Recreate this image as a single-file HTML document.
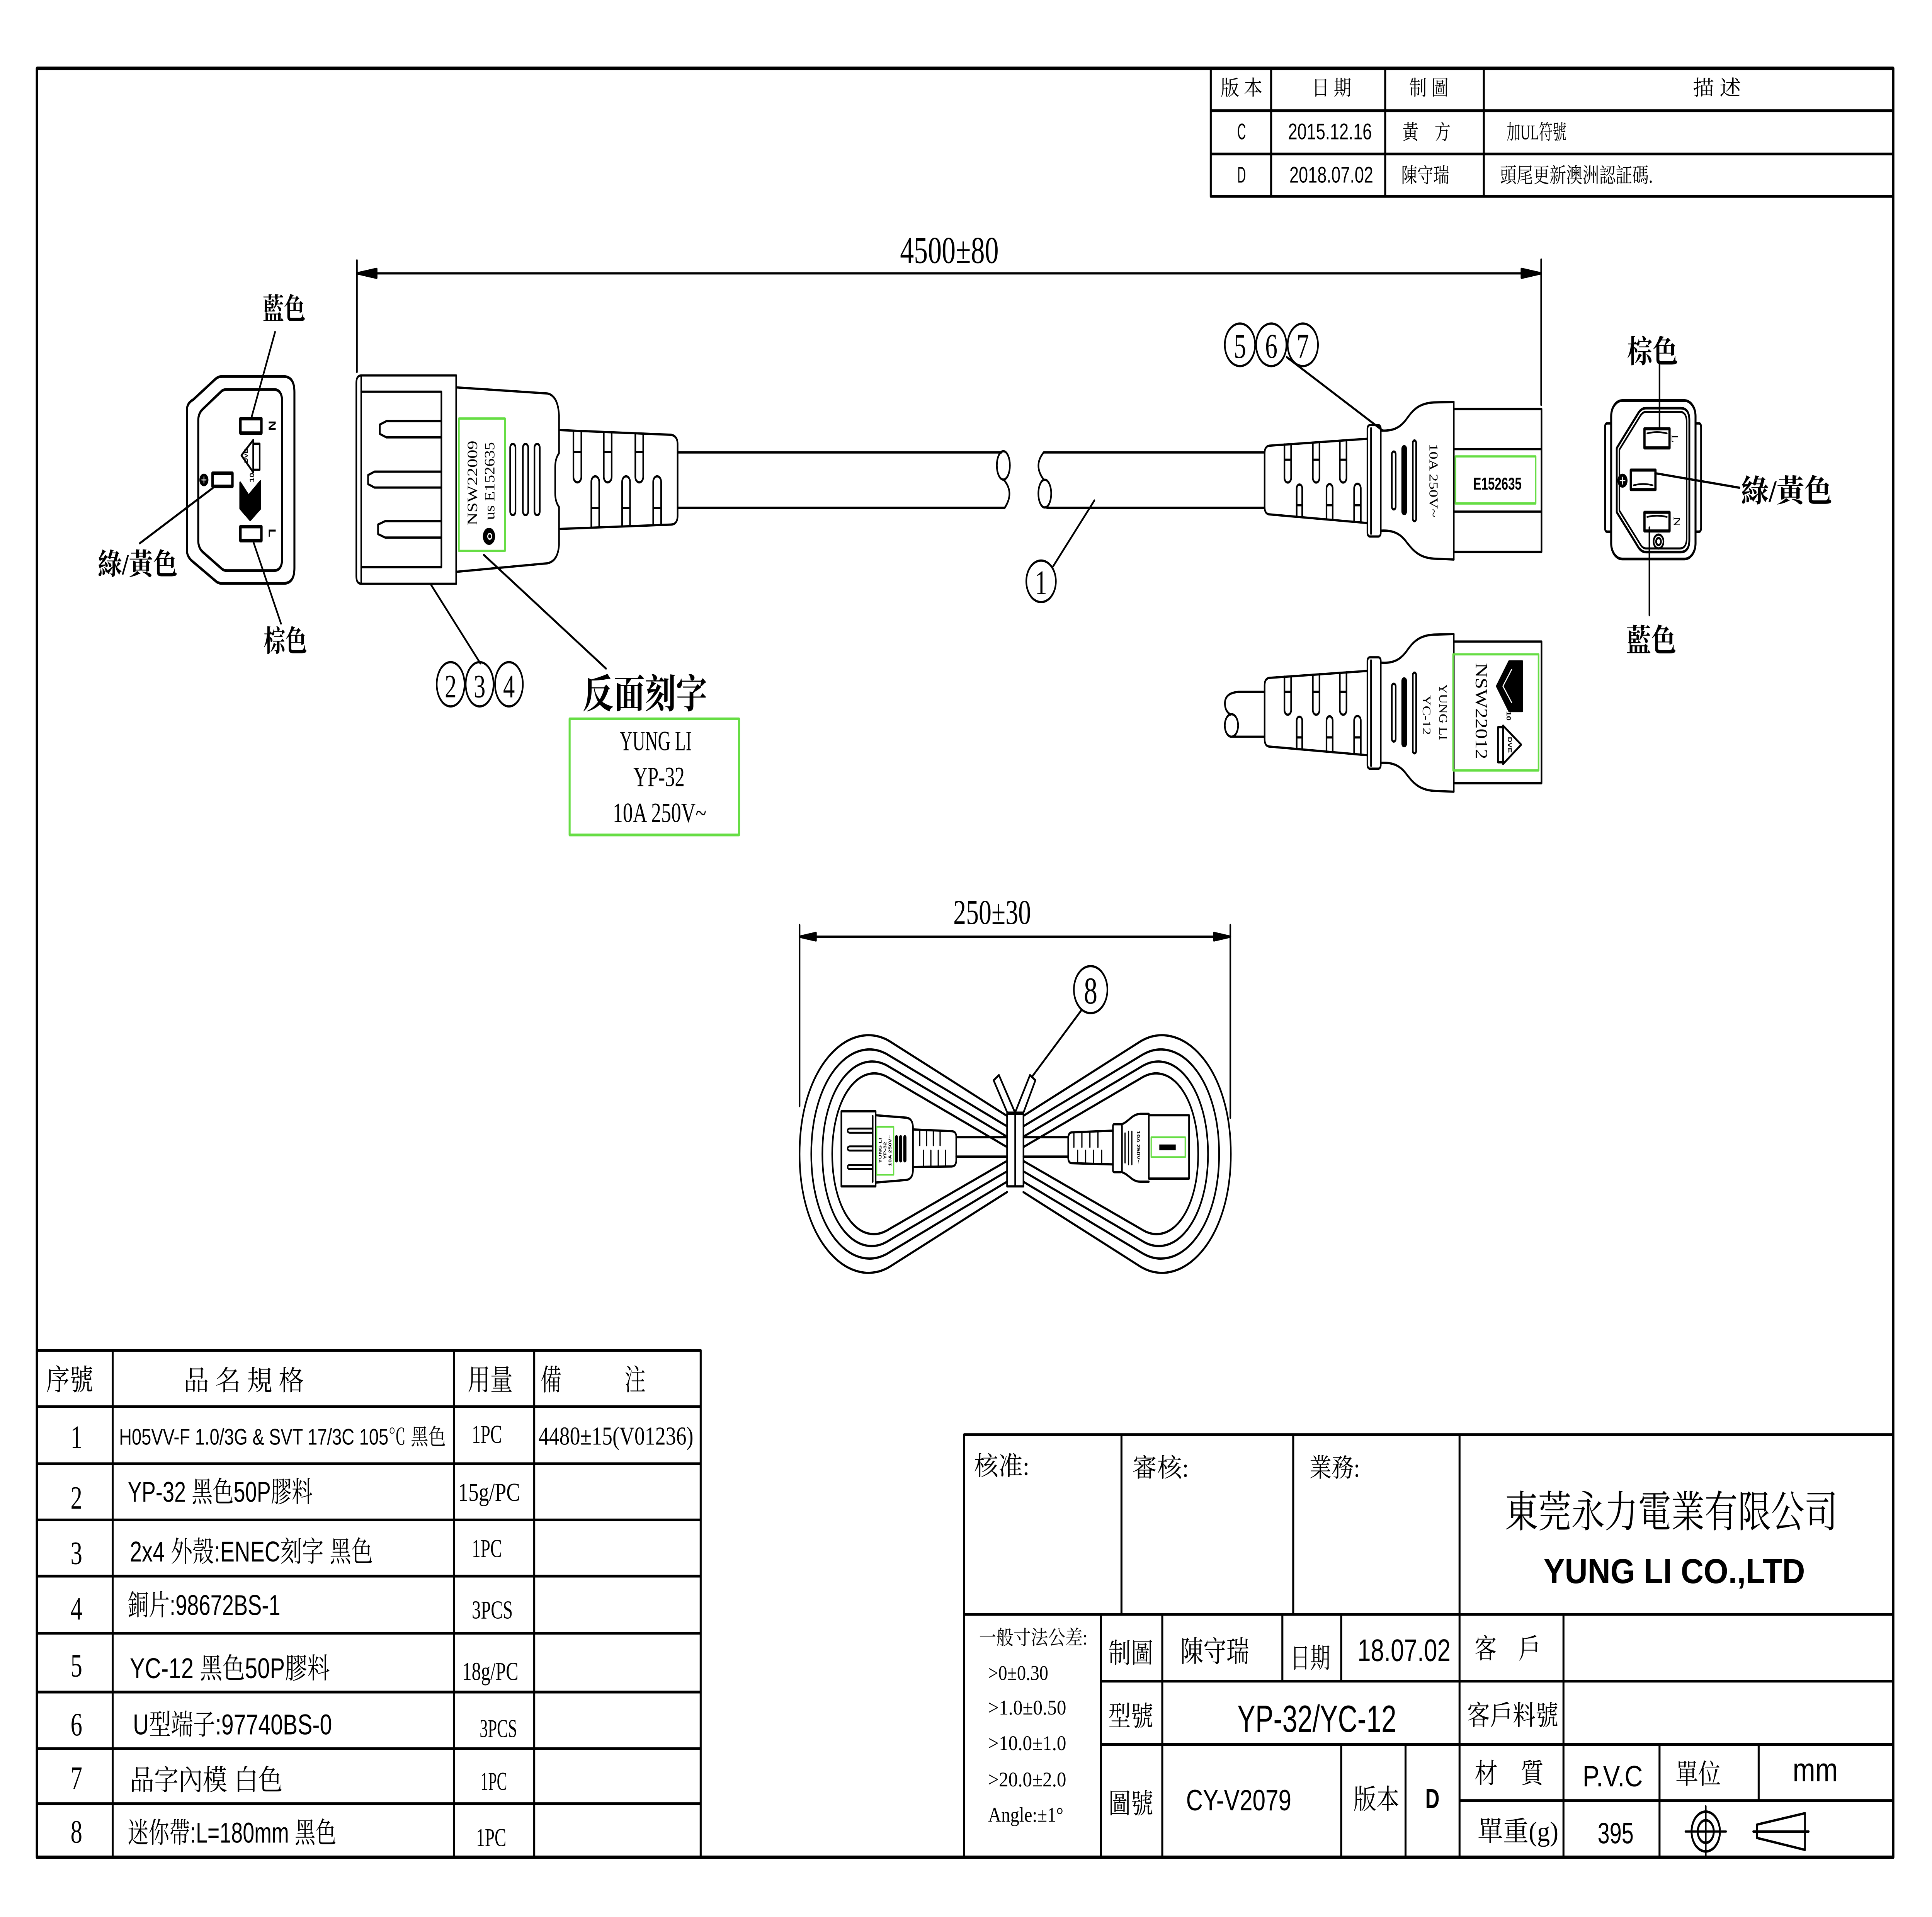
<!DOCTYPE html>
<html><head><meta charset="utf-8">
<style>
html,body{margin:0;padding:0;background:#fff;width:100%;height:100%;overflow:hidden;}
svg{display:block;position:absolute;left:0;top:0;width:100vw;height:100vh}
text{fill:#000;stroke:none;font-family:"Liberation Serif","Noto Serif CJK SC",serif}
.t{font-family:"Liberation Sans","Noto Serif CJK SC",sans-serif}
.b{font-family:"Liberation Sans",sans-serif;font-weight:bold}
.h{font-weight:bold}
</style></head><body>
<svg viewBox="0 0 1567 1108" preserveAspectRatio="none" xmlns="http://www.w3.org/2000/svg">
<rect width="1567" height="1108" fill="#fff"/>
<g fill="none" stroke="#000" stroke-width="1.3" stroke-linecap="round" stroke-linejoin="round">

<!-- Frame -->
<rect x="30" y="39.5" width="1505.5" height="1034" stroke-width="2"/>

<!-- Revision table -->
<path d="M982,39.5V113.5M1031,39.5V113.5M1123.5,39.5V113.5M1203.5,39.5V113.5M982,64H1535.5M982,89H1535.5M982,113.5H1535.5" stroke-width="1.6"/>
<text x="1007" y="55" font-size="12" text-anchor="middle" textLength="34" lengthAdjust="spacingAndGlyphs">版 本</text>
<text x="1080" y="55" font-size="12" text-anchor="middle" textLength="32" lengthAdjust="spacingAndGlyphs">日 期</text>
<text x="1159" y="55" font-size="12" text-anchor="middle" textLength="32" lengthAdjust="spacingAndGlyphs">制 圖</text>
<text x="1392.5" y="55" font-size="12" text-anchor="middle" textLength="39" lengthAdjust="spacingAndGlyphs">描 述</text>
<text class="t" x="1007" y="80.5" font-size="13" text-anchor="middle" textLength="7" lengthAdjust="spacingAndGlyphs">C</text>
<text class="t" x="1078.7" y="80.5" font-size="13" text-anchor="middle" textLength="68" lengthAdjust="spacingAndGlyphs">2015.12.16</text>
<text x="1157" y="80.5" font-size="12" text-anchor="middle" textLength="39" lengthAdjust="spacingAndGlyphs">黃　方</text>
<text x="1222" y="80.5" font-size="12" textLength="48.5" lengthAdjust="spacingAndGlyphs">加UL符號</text>
<text class="t" x="1007" y="105.5" font-size="13" text-anchor="middle" textLength="7" lengthAdjust="spacingAndGlyphs">D</text>
<text class="t" x="1079.8" y="105.5" font-size="13" text-anchor="middle" textLength="68" lengthAdjust="spacingAndGlyphs">2018.07.02</text>
<text x="1156" y="105.5" font-size="12" text-anchor="middle" textLength="39" lengthAdjust="spacingAndGlyphs">陳守瑞</text>
<text x="1216.6" y="105.5" font-size="12" textLength="124" lengthAdjust="spacingAndGlyphs">頭尾更新澳洲認証碼.</text>

<!-- Top dimension -->
<path d="M289.5,150.5V215M1250,150V234M289.5,158H1250"/>
<path d="M289.5,158L305.5,155.4L305.5,160.6Z M1250,158L1234,155.4L1234,160.6Z" fill="#000"/>
<text x="770" y="152" font-size="22" text-anchor="middle" textLength="80" lengthAdjust="spacingAndGlyphs">4500±80</text>

<!-- ===== Left plug side view ===== -->
<path d="M293,217H370V337.4H293Q289,337.4 289,333V221.4Q289,217 293,217ZM293,217V337.4"/>
<path d="M293,226.4H358V327.8H293"/>
<path d="M358,243.4H313.4L308.1,245.4V250.8L313.4,252.8H358"/>
<path d="M358,272.6H303.8L298.5,274.6V279.8L303.8,281.8H358"/>
<path d="M358,301.2H312.4L306.6,303.2V308.7L312.4,310.7H358"/>
<path d="M370,223.9L443.7,227.4Q452.5,228.5 453.4,240V262Q450.3,265 450.3,270V285Q450.3,290 453.4,293V315Q452.5,324.5 443.7,325.6L370,330.5"/>
<path d="M454.5,248.6L544.3,251.3Q549.6,252 549.6,256.8V298Q549.6,303 544.3,303.2L454.5,305.7"/>
<path d="M465.1,249V275.6A3.2,3.2 0 0 0 471.5,275.6V249.2M465.1,261.3H471.5"/>
<path d="M489.7,249.7V275.6A3.2,3.2 0 0 0 496.1,275.6V249.9M489.7,261.3H496.1"/>
<path d="M515.3,250.4V275.6A3.2,3.2 0 0 0 521.7,275.6V250.6M515.3,261.3H521.7"/>
<path d="M479.6,305V278.5A3.2,3.2 0 0 1 486,278.5V304.8M479.6,293.7H486"/>
<path d="M504.6,304.2V278.5A3.2,3.2 0 0 1 511,278.5V304M504.6,293.7H511"/>
<path d="M529.8,303.4V278.5A3.2,3.2 0 0 1 536.2,278.5V303.2M529.8,293.7H536.2"/>
<rect x="413.8" y="256.6" width="4.3" height="41.1" rx="2.1"/>
<rect x="424.1" y="256.6" width="4.3" height="41.1" rx="2.1"/>
<rect x="433.5" y="256.6" width="4.3" height="41.1" rx="2.1"/>
<rect x="372.2" y="241.9" width="37.4" height="76.5" stroke="#66dd44"/>
<text transform="translate(387,279.2) rotate(-90)" font-size="11.5" text-anchor="middle" textLength="49" lengthAdjust="spacingAndGlyphs">NSW22009</text>
<text transform="translate(401,278) rotate(-90)" font-size="11.5" text-anchor="middle" textLength="45" lengthAdjust="spacingAndGlyphs">us E152635</text>
<circle cx="396.6" cy="310" r="4.3" fill="#000"/>
<circle cx="397.2" cy="310" r="1.6" stroke="#fff" stroke-width="0.8"/>

<!-- leaders and labels for plug -->
<path d="M349.7,338.1L389.6,383.4M392.4,320.7L491.5,386.4"/>
<ellipse cx="365.5" cy="395.5" rx="11.3" ry="12.8"/>
<ellipse cx="389" cy="395.5" rx="11.3" ry="12.8"/>
<ellipse cx="412.8" cy="395.5" rx="11.3" ry="12.8"/>
<text x="365.5" y="403" font-size="19" text-anchor="middle">2</text>
<text x="389" y="403" font-size="19" text-anchor="middle">3</text>
<text x="412.8" y="403" font-size="19" text-anchor="middle">4</text>
<text class="h" x="523" y="409" font-size="23" text-anchor="middle" textLength="101" lengthAdjust="spacingAndGlyphs">反面刻字</text>
<rect x="462" y="415.5" width="137.4" height="67.1" stroke="#66dd44" stroke-width="1.6"/>
<text x="531.8" y="433.6" font-size="16" text-anchor="middle" textLength="58.3" lengthAdjust="spacingAndGlyphs">YUNG LI</text>
<text x="534.5" y="454.4" font-size="16" text-anchor="middle" textLength="41.6" lengthAdjust="spacingAndGlyphs">YP-32</text>
<text x="535" y="475.2" font-size="16" text-anchor="middle" textLength="75.9" lengthAdjust="spacingAndGlyphs">10A 250V~</text>

<!-- main cable with break -->
<path d="M549.6,261.5H812.4M549.6,293.5H814.9"/>
<ellipse cx="813.8" cy="269" rx="5.3" ry="8.2"/>
<path d="M814,277.2Q823,284.6 814.9,293.5"/>
<path d="M1025.7,261.5H846.5Q838,269 846.5,277.2"/>
<ellipse cx="847.4" cy="285.3" rx="5.2" ry="8"/>
<path d="M849.1,293.5H1025.7"/>
<path d="M887.6,289.3L854.2,327.3"/>
<circle cx="844.4" cy="336" r="12"/>
<text x="844.4" y="343.5" font-size="20" text-anchor="middle">1</text>

<!-- ===== Right connector upper ===== -->
<g id="cbody">
<path d="M1179.1,232.3L1163,232.6C1151,233 1146,237 1141,242C1136,247 1130,249.4 1120,248.8"/>
<path d="M1179.1,323.4L1163,322.9C1151,322.4 1146,318 1141,313.5C1136,308.5 1130,306.3 1120,306.7"/>
<path d="M1179.1,232.3V323.4"/>
<rect x="1109.1" y="245.7" width="10.8" height="64.4" rx="2"/>
<path d="M1112,247.5V308.5"/>
<path d="M1108.8,253.6L1029.5,257.6Q1025.7,258 1025.7,262V293Q1025.7,297 1029.5,297.3L1108.8,302.3"/>
<path d="M1041.8,256.9V276.2A2.7,2.7 0 0 0 1047.2,276.2V256.6M1041.8,265.7H1047.2"/>
<path d="M1064.8,255.8V276.2A2.7,2.7 0 0 0 1070.2,276.2V255.5M1064.8,265.7H1070.2"/>
<path d="M1086.7,254.7V276.2A2.7,2.7 0 0 0 1092.1,276.2V254.4M1086.7,265.7H1092.1"/>
<path d="M1051.7,298.7V282.3A2.25,2.25 0 0 1 1056.2,282.3V299M1051.7,292H1056.2"/>
<path d="M1075.9,300.2V282.3A2.5,2.5 0 0 1 1080.9,282.3V300.5M1075.9,292H1080.9"/>
<path d="M1098.3,301.6V282.3A2.7,2.7 0 0 1 1103.7,282.3V302M1098.3,292H1103.7"/>
<rect x="1128.9" y="261" width="3.1" height="33.4" rx="1.5"/>
<rect x="1137.3" y="257.9" width="3.2" height="39.2" rx="1.5" fill="#000"/>
<rect x="1145.9" y="254.6" width="2.7" height="46.6" rx="1.3"/>
</g>
<rect x="1179.1" y="236.4" width="71.2" height="82.6"/>
<path d="M1179.1,259.6H1250.3M1179.1,295.7H1250.3"/>
<rect x="1180.5" y="263.8" width="65" height="27.2" stroke="#66dd44"/>
<text class="b" x="1214.5" y="283" font-size="10" text-anchor="middle" textLength="39.3" lengthAdjust="spacingAndGlyphs">E152635</text>
<text transform="translate(1159.5,277.7) rotate(90)" font-size="10" text-anchor="middle" textLength="42.6" lengthAdjust="spacingAndGlyphs">10A 250V~</text>
<path d="M1043.6,206.4L1121.7,249"/>
<circle cx="1005.7" cy="199.3" r="12.3"/>
<circle cx="1031.1" cy="199.3" r="12.3"/>
<circle cx="1056.7" cy="199.3" r="12.3"/>
<text x="1005.7" y="206.8" font-size="20" text-anchor="middle">5</text>
<text x="1031.1" y="206.8" font-size="20" text-anchor="middle">6</text>
<text x="1056.7" y="206.8" font-size="20" text-anchor="middle">7</text>

<!-- ===== Right connector lower ===== -->
<use href="#cbody" transform="translate(0,134.2)"/>
<rect x="1179.1" y="370.8" width="71.2" height="81.9"/>
<rect x="1178.6" y="378.2" width="69.3" height="67.1" stroke="#66dd44"/>
<text transform="translate(1167.4,411.5) rotate(90)" font-size="9.5" text-anchor="middle" textLength="32.4" lengthAdjust="spacingAndGlyphs">YUNG LI</text>
<text transform="translate(1154,413.3) rotate(90)" font-size="9.5" text-anchor="middle" textLength="23" lengthAdjust="spacingAndGlyphs">YC-12</text>
<text transform="translate(1197,411) rotate(90)" font-size="14" text-anchor="middle" textLength="55.6" lengthAdjust="spacingAndGlyphs">NSW22012</text>
<path d="M1214,396.6L1224,382.3H1234.7V411H1224Z" fill="#000"/>
<path d="M1219,396.6L1226,387M1219,396.6L1226,406" stroke="#fff" stroke-width="0.8"/>
<text class="b" transform="translate(1222,411) rotate(90)" font-size="5">10</text>
<path d="M1219.1,419.4L1233.8,430.4L1219.1,441.6Z"/>
<rect x="1215" y="420.3" width="4.1" height="20.3"/>
<text class="b" transform="translate(1223,430.5) rotate(90)" font-size="4.5" text-anchor="middle">DVE</text>
<path d="M1025.7,399.9H1004.5Q993.5,400.5 993.5,406.5Q993.5,411 998,413"/>
<ellipse cx="998.8" cy="419.3" rx="5.4" ry="6.5"/>
<path d="M1000,425.8H1025.7"/>

<!-- ===== Left front view ===== -->
<path d="M151.6,237Q151.6,233 156.7,231L174.7,219.1Q177,217.6 180,217.6L230,217.6Q238.8,217.6 238.8,226.6L238.8,328.3Q238.8,337.2 230,337.2L180,337.2Q177,337.2 174.7,335.7L156.7,324.8Q151.6,322 151.6,318Z" stroke-width="1.6"/>
<path d="M160.8,243Q160.8,239 164.4,236.5L179.8,226Q181.5,225.1 184,225.1L222,225.1Q228.8,225.1 228.8,232L228.8,323Q228.8,329.8 222,329.8L184,329.8Q181.5,329.8 179.8,328.7L164.4,319Q160.8,316.5 160.8,312.5Z" stroke-width="1.6"/>
<rect x="195" y="242" width="17" height="8.3" stroke-width="2"/>
<rect x="172.4" y="273.5" width="16.1" height="7.6" stroke-width="2"/>
<rect x="195" y="304.4" width="17" height="8.1" stroke-width="2"/>
<text class="b" transform="translate(218,246) rotate(90)" font-size="8" text-anchor="middle">N</text>
<text class="b" transform="translate(218,308) rotate(90)" font-size="8" text-anchor="middle">L</text>
<circle cx="165.4" cy="277.4" r="3" fill="#000"/>
<path d="M163.6,277.4H167.2M165.4,275.6V279.2" stroke="#fff" stroke-width="0.6"/>
<path d="M195.8,263.2L205.4,254.3V273Z"/>
<rect x="205.4" y="256.5" width="5.2" height="15"/>
<text class="b" transform="translate(201,263.5) rotate(-90)" font-size="4" text-anchor="middle">DVE</text>
<path d="M194.8,278.9L201.6,286.4L211.2,278.2V293.9L202.9,300.6L194.8,293.9Z" fill="#000"/>
<text class="b" transform="translate(206,276) rotate(-90)" font-size="5" text-anchor="middle">10</text>
<path d="M223.1,191.9L203.9,241.5M172.7,282L113.4,314M205.4,313L227.9,360.4"/>
<text class="h" x="213" y="184.5" font-size="17" textLength="34.7" lengthAdjust="spacingAndGlyphs">藍色</text>
<text class="h" x="79.2" y="332" font-size="17" textLength="64.7" lengthAdjust="spacingAndGlyphs">綠/黃色</text>
<text class="h" x="213.8" y="376.5" font-size="17" textLength="35.2" lengthAdjust="spacingAndGlyphs">棕色</text>

<!-- ===== Right front view ===== -->
<rect x="1306.8" y="231.5" width="68.4" height="91.6" rx="9" stroke-width="1.6"/>
<path d="M1306.8,244.7H1303.5Q1301.8,244.7 1301.8,247V305Q1301.8,307.3 1303.5,307.3H1306.8M1375.2,244.7H1378Q1379.7,244.7 1379.7,247V305Q1379.7,307.3 1378,307.3H1375.2" stroke-width="1.4"/>
<path d="M1311.3,259L1329,238.5Q1331.5,235.9 1335,235.9L1363,235.9Q1370.2,235.9 1370.2,243L1370.2,312Q1370.2,319.1 1363,319.1L1335,319.1Q1331.5,319.1 1329,316.5L1311.3,296Z" stroke-width="1.5"/>
<path d="M1313.5,259.8L1330.3,240.5Q1332.3,238 1335.3,238L1362.3,238Q1368,238 1368,244L1368,311Q1368,317 1362.3,317L1335.3,317Q1332.3,317 1330.3,314.5L1313.5,295.2Z" stroke-width="1.2"/>
<rect x="1333.8" y="247.8" width="20.3" height="11.1" stroke-width="1.8"/>
<rect x="1322.7" y="271.7" width="20" height="11.3" stroke-width="1.8"/>
<rect x="1333.8" y="296.1" width="20.3" height="10.8" stroke-width="1.8"/>
<path d="M1336,250.5Q1344,249 1352,250.5M1325,280.5Q1332.7,279 1340.5,280.5M1336,298.8Q1344,297.3 1352,298.8" stroke-width="1"/>
<text transform="translate(1356,253.5) rotate(90)" font-size="8" text-anchor="middle">L</text>
<text transform="translate(1357.5,301.5) rotate(90)" font-size="8" text-anchor="middle">N</text>
<circle cx="1316" cy="277.8" r="3.4" fill="#000"/>
<path d="M1314,277.8H1318M1316,275.8V279.8" stroke="#fff" stroke-width="0.6"/>
<circle cx="1345.2" cy="313" r="4"/>
<circle cx="1345.2" cy="313" r="2"/>
<path d="M1346,210.2V247.8M1342.4,273.5L1410.8,281.9M1337.8,304.9V355.6"/>
<text class="h" x="1319.6" y="209.5" font-size="18" textLength="41.3" lengthAdjust="spacingAndGlyphs">棕色</text>
<text class="h" x="1412" y="290" font-size="18" textLength="74" lengthAdjust="spacingAndGlyphs">綠/黃色</text>
<text class="h" x="1319" y="376.5" font-size="18" textLength="40.5" lengthAdjust="spacingAndGlyphs">藍色</text>

<!-- ===== Coil figure ===== -->
<path d="M648.5,534.6V639.3M997.9,534.6V646M648.5,541.4H997.9"/>
<path d="M648.5,541.4L661.8,539.2V543.6Z M997.9,541.4L984.6,539.2V543.6Z" fill="#000"/>
<text x="804.7" y="534" font-size="20" text-anchor="middle" textLength="63" lengthAdjust="spacingAndGlyphs">250±30</text>
<circle cx="884.6" cy="572" r="13.6"/>
<text x="884.6" y="580" font-size="22" text-anchor="middle">8</text>
<path d="M877,584L837.3,622.1"/>
<path d="M816.8,645L722,602C690,588 648.5,615 648.5,667C648.5,719 690,746 722,732L816.8,689"/>
<path d="M816.8,651L721,610C692,597 658,622 658,667C658,712 692,737 721,724L816.8,683"/>
<path d="M816.8,657L721,616.5C695,605 667,628 667,667C667,706 695,729 721,717L816.8,677"/>
<path d="M816.8,663L721,623C698,613 675,633 675,667C675,701 698,721 721,710.5L816.8,671"/>
<path d="M830,645L924.8,602C956.8,588 998.3,615 998.3,667C998.3,719 956.8,746 924.8,732L830,689"/>
<path d="M830,651L925.8,610C954.8,597 988.8,622 988.8,667C988.8,712 954.8,737 925.8,724L830,683"/>
<path d="M830,657L925.8,616.5C951.8,605 979.8,628 979.8,667C979.8,706 951.8,729 925.8,717L830,677"/>
<path d="M830,663L925.8,623C948.8,613 971.8,633 971.8,667C971.8,701 948.8,721 925.8,710.5L830,671"/>
<path d="M817,643.1L805.9,624.4L810.2,621.4L823.3,643.1Z" fill="#fff"/>
<path d="M823.3,643.1L835.4,621.4L839.8,624.4L830.1,643.1Z" fill="#fff"/>
<rect x="816.8" y="643.8" width="13.3" height="41.9" fill="#fff"/>
<path d="M823.4,643.8V685.7"/>
<path d="M775.6,657.3H816.8M775.6,668.5H816.8M830.1,657.3H866.4M830.1,668.5H866.4"/>
<rect x="682.4" y="642.3" width="27.8" height="43.4"/>
<path d="M707.8,645V683"/>
<path d="M707.8,652.3H689.5Q687.5,652.3 687.5,653.5Q687.5,654.7 689.5,654.7H707.8M707.8,662.6H689.5Q687.5,662.6 687.5,663.8Q687.5,665 689.5,665H707.8M707.8,673.3H689.5Q687.5,673.3 687.5,674.5Q687.5,675.7 689.5,675.7H707.8" stroke-width="1.1"/>
<path d="M710.2,644.6L735,646Q740.5,646.5 740.5,652V676Q740.5,681.5 735,682L710.2,683.5"/>
<rect x="711" y="651.3" width="13.8" height="27.7" stroke="#66dd44" stroke-width="1"/>
<text transform="translate(715,665) rotate(-90)" font-size="3.6" text-anchor="middle" class="b">YUNG LI</text>
<text transform="translate(719,665) rotate(-90)" font-size="3.6" text-anchor="middle" class="b">YP-32</text>
<text transform="translate(723,665) rotate(-90)" font-size="3.6" text-anchor="middle" class="b">10A 250V~</text>
<rect x="726.2" y="656.5" width="1.8" height="15" rx="0.9" fill="#000" stroke-width="0.8"/>
<rect x="729.6" y="656.5" width="1.8" height="15" rx="0.9" fill="#000" stroke-width="0.8"/>
<rect x="733" y="656.5" width="1.8" height="15" rx="0.9" fill="#000" stroke-width="0.8"/>
<path d="M740.5,652.8L772,653.8Q775.6,654 775.6,657V670.5Q775.6,674 772,674.2L740.5,674.5"/>
<path d="M746,653V662M751.5,653.2V662M757,653.4V662M762.5,653.6V662M749,665V674.4M755,665V674.4M761,665V674.3M767,665V674.2" stroke-width="1"/>
<rect x="931.8" y="644.6" width="32.6" height="36.6"/>
<rect x="933.7" y="657.3" width="27.6" height="11.5" stroke="#66dd44" stroke-width="1"/>
<rect x="940.3" y="661.5" width="13.3" height="3.3" fill="#000" stroke="none"/>
<path d="M931.8,643.8H925C918,644 916,648 910,649.8M931.8,683H925C918,683 916,679 910,677.5"/>
<rect x="902.7" y="649.8" width="7.3" height="27.7" rx="1"/>
<path d="M902.7,653.5L869,654.5Q866.4,655 866.4,658V669Q866.4,672 869,672.3L902.7,673"/>
<path d="M871,654.5V663M877.5,654.3V663M884,654.1V663M890.5,653.9V663M874,665V672.4M880.5,665V672.5M887,665V672.7M893.5,665V672.8" stroke-width="1"/>
<path d="M912.5,655V672M915.3,654V673M918,654V673" stroke-width="1"/>
<text transform="translate(922,663) rotate(90)" font-size="3.8" text-anchor="middle" class="b">10A 250V~</text>

<!-- ===== Parts table (bottom-left) ===== -->
<path d="M30,780.5H568.3M30,813H568.3M30,846H568.3M30,878.5H568.3M30,911H568.3M30,944H568.3M30,978H568.3M30,1010.7H568.3M30,1042.5H568.3M91.4,780.5V1073.5M368.1,780.5V1073.5M433.3,780.5V1073.5M568.3,780.5V1073.5" stroke-width="1.6"/>
<text x="37.3" y="803.5" font-size="17" textLength="38.3" lengthAdjust="spacingAndGlyphs">序號</text>
<text x="148.9" y="803.5" font-size="16" textLength="97.7" lengthAdjust="spacingAndGlyphs">品 名 規 格</text>
<text x="379.2" y="803.5" font-size="17" textLength="36.7" lengthAdjust="spacingAndGlyphs">用量</text>
<text x="438.5" y="803.5" font-size="17">備</text>
<text x="506.6" y="803.5" font-size="17">注</text>
<g class="t" font-size="19" text-anchor="middle">
<text x="62" y="837">1</text>
<text x="62" y="872">2</text>
<text x="62" y="904">3</text>
<text x="62" y="936">4</text>
<text x="62" y="969">5</text>
<text x="62" y="1003">6</text>
<text x="62" y="1034">7</text>
<text x="62" y="1065">8</text>
</g>
<text class="t" x="96.6" y="835" font-size="13" textLength="265" lengthAdjust="spacingAndGlyphs">H05VV-F 1.0/3G &amp; SVT 17/3C 105℃ 黑色</text>
<text class="t" x="103.6" y="868" font-size="16.5" textLength="150" lengthAdjust="spacingAndGlyphs">YP-32 黑色50P膠料</text>
<text class="t" x="105.3" y="902.5" font-size="16.5" textLength="197.2" lengthAdjust="spacingAndGlyphs">2x4 外殼:ENEC刻字 黑色</text>
<text class="t" x="103.6" y="933.5" font-size="16.5" textLength="123.8" lengthAdjust="spacingAndGlyphs">銅片:98672BS-1</text>
<text class="t" x="105.3" y="970" font-size="16.5" textLength="162.3" lengthAdjust="spacingAndGlyphs">YC-12 黑色50P膠料</text>
<text class="t" x="107.8" y="1002.5" font-size="16.5" textLength="161.5" lengthAdjust="spacingAndGlyphs">U型端子:97740BS-0</text>
<text class="t" x="105.3" y="1034.5" font-size="16.5" textLength="123.9" lengthAdjust="spacingAndGlyphs">品字內模 白色</text>
<text class="t" x="103.6" y="1065" font-size="16.5" textLength="169.2" lengthAdjust="spacingAndGlyphs">迷你帶:L=180mm 黑色</text>
<g class="t" font-size="15">
<text x="382.7" y="834" textLength="24.4" lengthAdjust="spacingAndGlyphs">1PC</text>
<text x="371.5" y="867.5" textLength="50.3" lengthAdjust="spacingAndGlyphs">15g/PC</text>
<text x="382.7" y="900" textLength="24.4" lengthAdjust="spacingAndGlyphs">1PC</text>
<text x="382.7" y="935.5" textLength="33.2" lengthAdjust="spacingAndGlyphs">3PCS</text>
<text x="375" y="971" textLength="45.4" lengthAdjust="spacingAndGlyphs">18g/PC</text>
<text x="389" y="1004" textLength="30.4" lengthAdjust="spacingAndGlyphs">3PCS</text>
<text x="389.7" y="1034.5" textLength="21.6" lengthAdjust="spacingAndGlyphs">1PC</text>
<text x="386.2" y="1067" textLength="24.4" lengthAdjust="spacingAndGlyphs">1PC</text>
<text x="436.8" y="835" textLength="125.6" lengthAdjust="spacingAndGlyphs">4480±15(V01236)</text>
</g>

<!-- ===== Title block (bottom-right) ===== -->
<path d="M782,829.2H1535.5M782,829.2V1073.5M909.6,829.2V933.1M1048.9,829.2V933.1M1183.8,829.2V1073.5M782,933.1H1535.5M893,933.1V1073.5M942.7,933.1V1073.5M1040.1,933.1V971.7M1087.8,933.1V971.7M1087.8,1008.3V1073.5M1140,1008.3V1073.5M1268.1,933.1V1073.5M1346,1008.3V1073.5M1426.4,1008.3V1040.7M893,971.7H1535.5M893,1008.3H1535.5M1183.8,1040.7H1535.5" stroke-width="1.6"/>
<text x="790" y="852.5" font-size="15" textLength="45" lengthAdjust="spacingAndGlyphs">核准:</text>
<text x="918.3" y="853.5" font-size="15" textLength="46" lengthAdjust="spacingAndGlyphs">審核:</text>
<text x="1062" y="853.5" font-size="15" textLength="41" lengthAdjust="spacingAndGlyphs">業務:</text>
<text x="1355.5" y="882.5" font-size="25" text-anchor="middle" textLength="270" lengthAdjust="spacingAndGlyphs">東莞永力電業有限公司</text>
<text class="b" x="1358" y="915" font-size="20" text-anchor="middle" textLength="212" lengthAdjust="spacingAndGlyphs">YUNG LI CO.,LTD</text>
<text x="794" y="950.5" font-size="11.5" textLength="88" lengthAdjust="spacingAndGlyphs">一般寸法公差:</text>
<g class="t" font-size="12">
<text x="801.5" y="971" textLength="48.7" lengthAdjust="spacingAndGlyphs">&gt;0±0.30</text>
<text x="801.5" y="991" textLength="63.3" lengthAdjust="spacingAndGlyphs">&gt;1.0±0.50</text>
<text x="801.5" y="1011.5" textLength="63.3" lengthAdjust="spacingAndGlyphs">&gt;10.0±1.0</text>
<text x="801.5" y="1032.5" textLength="63.3" lengthAdjust="spacingAndGlyphs">&gt;20.0±2.0</text>
<text x="801.5" y="1053" textLength="61" lengthAdjust="spacingAndGlyphs">Angle:±1°</text>
</g>
<text x="899" y="961" font-size="16" textLength="36.4" lengthAdjust="spacingAndGlyphs">制圖</text>
<text x="957.3" y="960.5" font-size="17" textLength="56" lengthAdjust="spacingAndGlyphs">陳守瑞</text>
<text x="1046.4" y="964" font-size="16" textLength="32.6" lengthAdjust="spacingAndGlyphs">日期</text>
<text class="t" x="1101" y="960" font-size="18" textLength="75.5" lengthAdjust="spacingAndGlyphs">18.07.02</text>
<text x="1196" y="958.5" font-size="16" textLength="53.5" lengthAdjust="spacingAndGlyphs">客　戶</text>
<text x="899" y="997.5" font-size="16" textLength="36.4" lengthAdjust="spacingAndGlyphs">型號</text>
<text class="t" x="1003.6" y="1001" font-size="22" textLength="129" lengthAdjust="spacingAndGlyphs">YP-32/YC-12</text>
<text x="1190" y="997" font-size="16" textLength="74" lengthAdjust="spacingAndGlyphs">客戶料號</text>
<text x="899" y="1048" font-size="16" textLength="36.4" lengthAdjust="spacingAndGlyphs">圖號</text>
<text class="t" x="962" y="1046.4" font-size="17" textLength="85.4" lengthAdjust="spacingAndGlyphs">CY-V2079</text>
<text x="1097.6" y="1045.5" font-size="16" textLength="37.4" lengthAdjust="spacingAndGlyphs">版本</text>
<text class="b" x="1161.8" y="1045" font-size="16" text-anchor="middle">D</text>
<text x="1196" y="1030.5" font-size="16" textLength="56" lengthAdjust="spacingAndGlyphs">材　質</text>
<text class="t" x="1283.6" y="1032.5" font-size="17" textLength="48.8" lengthAdjust="spacingAndGlyphs">P.V.C</text>
<text x="1359" y="1031" font-size="16" textLength="36.7" lengthAdjust="spacingAndGlyphs">單位</text>
<text class="t" x="1454" y="1029.5" font-size="19" textLength="36.6" lengthAdjust="spacingAndGlyphs">mm</text>
<text x="1198.4" y="1064" font-size="16" textLength="65.6" lengthAdjust="spacingAndGlyphs">單重(g)</text>
<text class="t" x="1295.8" y="1065.5" font-size="17" textLength="29.2" lengthAdjust="spacingAndGlyphs">395</text>
<circle cx="1383.5" cy="1058.6" r="11.5" stroke-width="1.5"/>
<circle cx="1383.5" cy="1058.6" r="6.5" stroke-width="1.5"/>
<path d="M1367,1058.6H1400M1383.5,1044V1073" stroke-width="1.3"/>
<path d="M1425,1054.6L1464,1048V1069.2L1425,1062.3ZM1422,1058.6H1467" stroke-width="1.4"/>
</g>
</svg>
</body></html>
